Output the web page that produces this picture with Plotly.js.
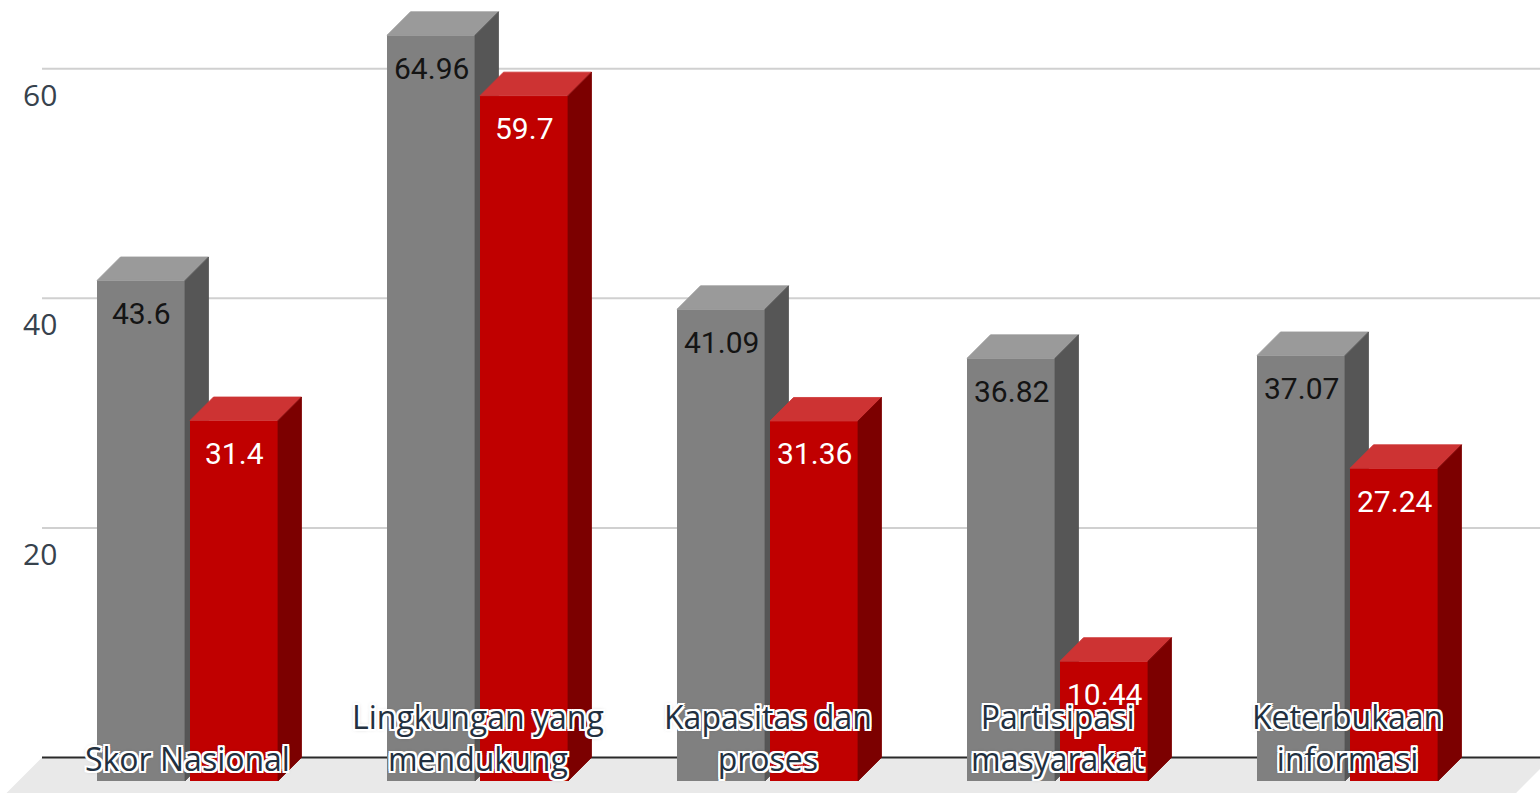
<!DOCTYPE html>
<html><head><meta charset="utf-8">
<script src="https://cdn.plot.ly/plotly-3.0.1.min.js"></script>
<style>html,body{margin:0;padding:0;background:#fff;overflow:hidden}#chart{width:1540px;height:793px}</style>
</head><body><div id="chart"></div>
<script>
// ---- data ----
const categories = ["Skor Nasional", "Lingkungan yang<br>mendukung", "Kapasitas dan<br>proses", "Partisipasi<br>masyarakat", "Keterbukaan<br>informasi"];
const seriesGray = [43.6, 64.96, 41.09, 36.82, 37.07];
const seriesRed = [31.4, 59.7, 31.36, 10.44, 27.24];
const yTickVals = [20, 40, 60];
const yTickText = ["20", "40", "60"];

// ---- geometry (styling) ----
const W = 1540, H = 793;
const pxPerCat = 290, pxPerUnit = 11.48, depthPx = 23.5;
const firstCenterPx = 187.5, zeroPx = 781, gridStartPx = 42;
const xRange = [-firstCenterPx / pxPerCat, (W - firstCenterPx) / pxPerCat];
const yRange = [-(H - zeroPx) / pxPerUnit, zeroPx / pxPerUnit];
const dx = depthPx / pxPerCat, dv = depthPx / pxPerUnit;
const barW = 88 / pxPerCat;
const grayOff = -90.5 / pxPerCat, redOff = 2.5 / pxPerCat;
const idx = categories.map((_, i) => i);

function faces(vals, off) {
  const top = {x: [], y: []}, side = {x: [], y: []};
  vals.forEach((v, i) => {
    const x0 = i + off, x1 = x0 + barW;
    top.x.push(x0, x1, x1 + dx, x0 + dx, x0, null);
    top.y.push(v, v, v + dv, v + dv, v, null);
    side.x.push(x1, x1 + dx, x1 + dx, x1, x1, null);
    side.y.push(0, dv, v + dv, v, 0, null);
  });
  return {top, side};
}
function poly(f, color, xa, ya) {
  return {type: 'scatter', mode: 'lines', x: f.x, y: f.y, fill: 'toself', fillcolor: color,
    line: {color: color, width: 0.8}, hoverinfo: 'skip', xaxis: xa, yaxis: ya, connectgaps: false};
}
const gF = faces(seriesGray, grayOff), rF = faces(seriesRed, redOff);

const traces = [
  {type: 'bar', x: idx, y: seriesGray, offset: grayOff, width: barW, marker: {color: '#808080', line: {width: 0}},
    hoverinfo: 'skip', xaxis: 'x', yaxis: 'y', name: 'gray'},
  poly(gF.top, '#9a9a9a', 'x', 'y'),
  poly(gF.side, '#565656', 'x', 'y'),
  {type: 'bar', x: idx, y: seriesRed, offset: redOff, width: barW, marker: {color: '#c00000', line: {width: 0}},
    hoverinfo: 'skip', xaxis: 'x2', yaxis: 'y2', name: 'red'},
  poly(rF.top, '#cd3333', 'x2', 'y2'),
  poly(rF.side, '#7c0000', 'x2', 'y2')
];

const xL = (gridStartPx - firstCenterPx) / pxPerCat;
const xR = xRange[1] + 0.04;
const shapes = [
  {type: 'path', xref: 'x', yref: 'y', layer: 'below', fillcolor: '#e9e9e9', line: {width: 0},
    path: `M${xL},${dv} L${xR},${dv} L${xR - 2 * dx},${-dv} L${xL - 2 * dx},${-dv} Z`}
];
yTickVals.forEach(t => shapes.push({type: 'line', xref: 'x', yref: 'y', layer: 'below',
  x0: xL, x1: xRange[1], y0: t + dv, y1: t + dv, line: {color: '#d0d0d0', width: 2}}));
shapes.push({type: 'line', xref: 'x', yref: 'y', layer: 'below', x0: xL, x1: xRange[1], y0: dv, y1: dv,
  line: {color: '#2a2a2a', width: 2}});

const halo = "-2px -2px 0 #fff, 2px -2px 0 #fff, -2px 2px 0 #fff, 2px 2px 0 #fff, 0 -2px 0 #fff, 0 2px 0 #fff, -2px 0 0 #fff, 2px 0 0 #fff, 0 0 4px rgba(0,0,0,0.35)";
const annotations = [];
seriesGray.forEach((v, i) => annotations.push({xref: 'x', yref: 'y', x: i + grayOff + barW / 2, y: v, yshift: -33,
  yanchor: 'middle', showarrow: false, text: String(v), font: {family: 'Roboto', size: 30, color: '#141414'}}));
seriesRed.forEach((v, i) => annotations.push({xref: 'x', yref: 'y', x: i + redOff + barW / 2, y: v, yshift: -33,
  yanchor: 'middle', showarrow: false, text: String(v), font: {family: 'Roboto', size: 30, color: '#ffffff'}}));
categories.forEach((c, i) => annotations.push({xref: 'x', yref: 'paper', x: i, y: (H - 782) / H, yanchor: 'bottom',
  showarrow: false, text: c, align: 'center',
  font: {family: 'Open Sans', size: 32, color: '#223040', shadow: halo}}));

const layout = {
  width: W, height: H, margin: {l: 0, r: 0, t: 0, b: 0}, paper_bgcolor: '#ffffff', plot_bgcolor: '#ffffff',
  showlegend: false, barmode: 'overlay',
  xaxis: {range: xRange, visible: false, fixedrange: true},
  yaxis: {range: yRange, showgrid: false, zeroline: false, showline: false, tickvals: yTickVals, ticktext: yTickText,
    ticklabelposition: 'inside', ticks: '', ticklabelstandoff: 20, ticklabelshift: 3,
    tickfont: {family: 'Open Sans', size: 30, color: '#37424d'}},
  xaxis2: {range: xRange, visible: false, overlaying: 'x', anchor: 'y2'},
  yaxis2: {range: yRange, visible: false, overlaying: 'y', anchor: 'x2'},
  shapes: shapes,
  annotations: annotations
};
Plotly.newPlot('chart', traces, layout, {staticPlot: true, displayModeBar: false});
</script>
</body></html>
